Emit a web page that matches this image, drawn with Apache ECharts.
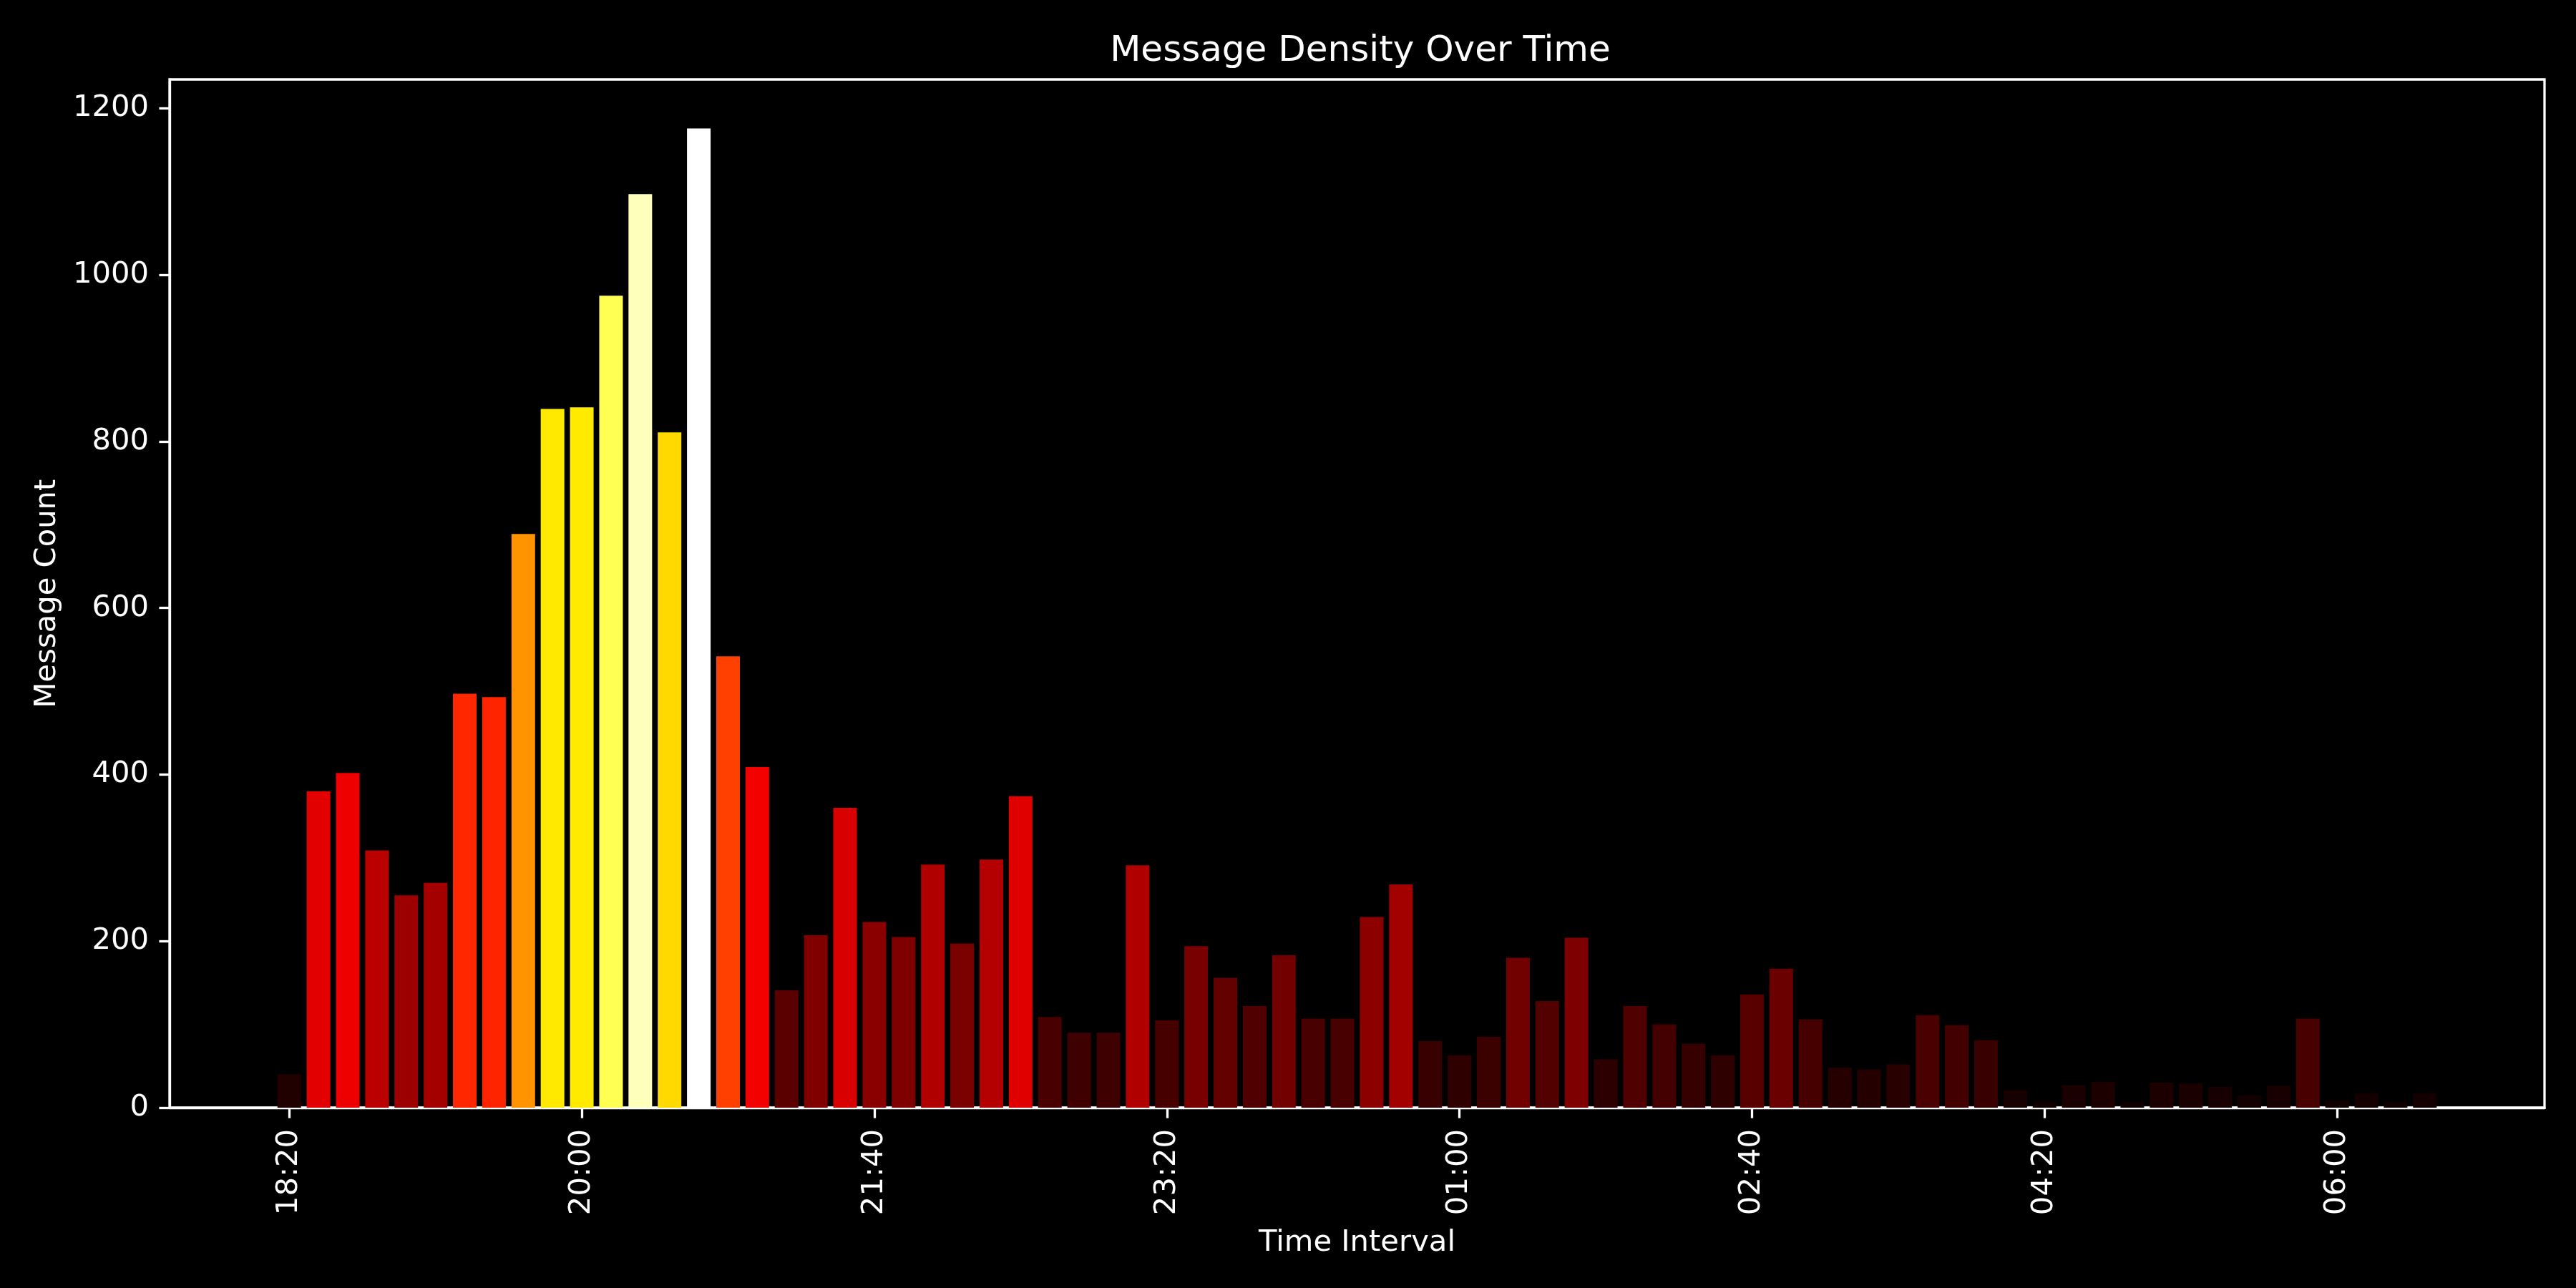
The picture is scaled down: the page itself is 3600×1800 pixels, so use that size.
<!DOCTYPE html>
<html>
<head>
<meta charset="utf-8">
<script src="https://cdn.jsdelivr.net/npm/echarts@6/dist/echarts.min.js"></script>
<style>html,body{margin:0;padding:0;background:#000;}#c{width:3600px;height:1800px;}</style>
</head>
<body>
<div id="c"></div>
<script>
const times = ['18:20','18:30','18:40','18:50','19:00','19:10','19:20','19:30','19:40','19:50',
  '20:00','20:10','20:20','20:30','20:40','20:50','21:00','21:10','21:20','21:30',
  '21:40','21:50','22:00','22:10','22:20','22:30','22:40','22:50','23:00','23:10',
  '23:20','23:30','23:40','23:50','00:00','00:10','00:20','00:30','00:40','00:50',
  '01:00','01:10','01:20','01:30','01:40','01:50','02:00','02:10','02:20','02:30',
  '02:40','02:50','03:00','03:10','03:20','03:30','03:40','03:50','04:00','04:10',
  '04:20','04:30','04:40','04:50','05:00','05:10','05:20','05:30','05:40','05:50',
  '06:00','06:10','06:20','06:30'];
const counts = [40,380,402,309,255,270,497,493,689,839,
  841,975,1097,811,1176,542,409,141,207,360,
  223,205,292,197,298,374,109,90,90,291,
  105,194,156,122,183,107,107,229,268,80,
  63,85,180,128,204,58,122,100,77,63,
  136,167,106,48,46,52,111,99,81,21,
  8,27,31,7,30,29,25,15,26,107,
  9,17,7,17];
const xTickLabels = ['18:20','20:00','21:40','23:20','01:00','02:40','04:20','06:00'];
const yTicks = [0,200,400,600,800,1000,1200];

const maxCount = Math.max(...counts);
function hot(t){
  t = Math.max(0, Math.min(1, t));
  const clip = v => Math.max(0, Math.min(1, v));
  const r = clip(0.0416 + t * (1 - 0.0416) / 0.365079);
  const g = clip((t - 0.365079) / (0.746032 - 0.365079));
  const b = clip((t - 0.746032) / (1 - 0.746032));
  const c = v => Math.round(v * 255);
  return 'rgb(' + c(r) + ',' + c(g) + ',' + c(b) + ')';
}
const xTickPos = xTickLabels.map(l => times.indexOf(l));
const barData = counts.map((v, i) => ({value: [i, v], itemStyle: {color: hot(v / maxCount)}}));
const n = times.length;
const span = (n - 1) + 0.8;
const xMin = -0.4 - 0.05 * span;
const xMax = (n - 1) + 0.4 + 0.05 * span;
const yMax = maxCount * 1.05;

const font = 'DejaVu Sans';
const chart = echarts.init(document.getElementById('c'), null, {renderer: 'canvas'});
chart.setOption({
  backgroundColor: '#000',
  animation: false,
  title: {
    text: 'Message Density Over Time',
    left: 1896, top: 42, textAlign: 'center',
    textStyle: {color: '#fff', fontFamily: font, fontSize: 50, fontWeight: 'normal'}
  },
  grid: {left: 237, right: 44, top: 111, bottom: 252, show: true, borderColor: '#fff', borderWidth: 3.3, backgroundColor: '#000'},
  xAxis: {
    type: 'value', min: xMin, max: xMax,
    name: 'Time Interval', nameLocation: 'middle', nameGap: 168,
    nameTextStyle: {color: '#fff', fontFamily: font, fontSize: 41.7},
    axisLine: {show: true, onZero: false, lineStyle: {color: '#fff', width: 3.3}},
    axisTick: {show: true, length: 14.6, lineStyle: {color: '#fff', width: 3.3}, customValues: xTickPos},
    axisLabel: {color: '#fff', fontFamily: font, fontSize: 41.7, rotate: 90, margin: 30,
      customValues: xTickPos, formatter: v => times[Math.round(v)] || ''},
    splitLine: {show: false}
  },
  yAxis: {
    type: 'value', min: 0, max: yMax,
    name: 'Message Count', nameLocation: 'middle', nameGap: 150,
    nameTextStyle: {color: '#fff', fontFamily: font, fontSize: 41.7},
    axisLine: {show: true, onZero: false, lineStyle: {color: '#fff', width: 3.3}},
    axisTick: {show: true, length: 14.6, lineStyle: {color: '#fff', width: 3.3}, customValues: yTicks},
    axisLabel: {color: '#fff', fontFamily: font, fontSize: 41.7, margin: 29, customValues: yTicks,
      formatter: v => String(Math.round(v))},
    splitLine: {show: false}
  },
  series: [{
    type: 'bar',
    data: barData,
    barWidth: 33
  }]
});
</script>
</body>
</html>
